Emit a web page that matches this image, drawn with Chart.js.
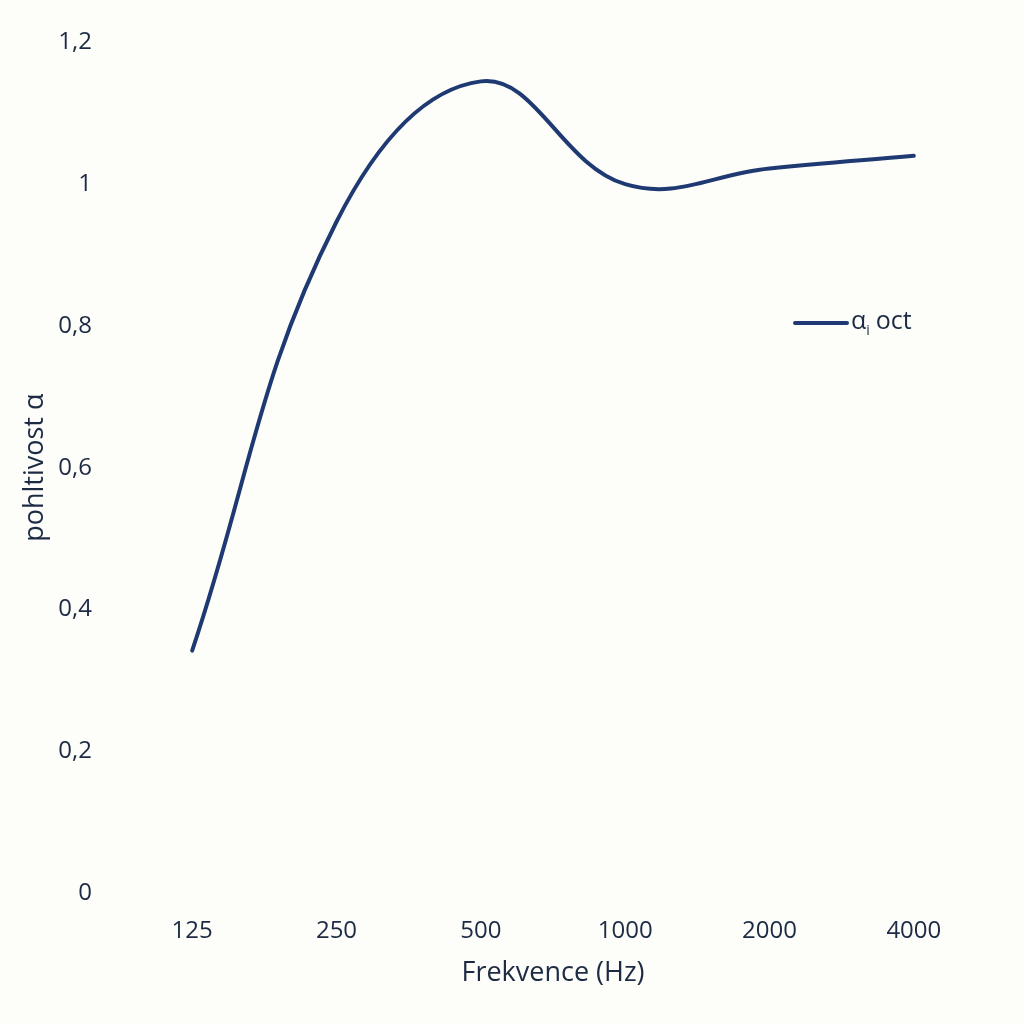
<!DOCTYPE html>
<html>
<head>
<meta charset="utf-8">
<script src="https://cdn.jsdelivr.net/npm/chart.js@4"></script>
<style>
  html, body { margin: 0; padding: 0; background: #fdfdf9; }
  #wrap { width: 1024px; height: 1024px; }
</style>
</head>
<body>
<div id="wrap"><canvas id="chart" width="1024" height="1024"></canvas></div>
<script>
const frequencies = ['125', '250', '500', '1000', '2000', '4000'];
const alphaOct = [0.342, 0.947, 1.145, 1.0, 1.022, 1.04];
const seriesName = 'oct';

const textColor = '#1c2a44';
const lineColor = '#1f3a72';
const fontFamily = '"Open Sans", "Noto Sans", sans-serif';

// legend drawn inside the plot area, like the original
const inlineLegend = {
  id: 'inlineLegend',
  afterDraw(chart) {
    const ctx = chart.ctx;
    const y = 323;
    ctx.save();
    ctx.strokeStyle = lineColor;
    ctx.lineWidth = 4;
    ctx.lineCap = 'round';
    ctx.beginPath();
    ctx.moveTo(795, y);
    ctx.lineTo(847, y);
    ctx.stroke();
    ctx.fillStyle = textColor;
    ctx.textBaseline = 'middle';
    ctx.font = '25px ' + fontFamily;
    ctx.fillText('α', 851, y - 1);
    let x = 851 + ctx.measureText('α').width;
    ctx.font = '14px ' + fontFamily;
    ctx.fillText('i', x, y + 8);
    x += ctx.measureText('i').width + 6;
    ctx.font = '25px ' + fontFamily;
    ctx.fillText(seriesName, x, y - 1);
    ctx.restore();
  }
};

const background = {
  id: 'background',
  beforeDraw(chart) {
    const ctx = chart.ctx;
    ctx.save();
    ctx.fillStyle = '#fdfdf9';
    ctx.fillRect(0, 0, chart.width, chart.height);
    ctx.restore();
  }
};

new Chart(document.getElementById('chart'), {
  type: 'line',
  data: {
    labels: frequencies,
    datasets: [{
      label: 'αi oct',
      data: alphaOct,
      borderColor: lineColor,
      borderWidth: 4,
      borderCapStyle: 'round',
      pointRadius: 0,
      tension: 0.4,
      fill: false
    }]
  },
  options: {
    responsive: false,
    animation: false,
    layout: { padding: { top: 26, right: 38, bottom: 30, left: 0 } },
    plugins: {
      legend: { display: false },
      tooltip: { enabled: false }
    },
    scales: {
      x: {
        offset: true,
        grid: { display: false, drawTicks: false },
        border: { display: false },
        ticks: { color: textColor, font: { family: fontFamily, size: 24 }, padding: 24, maxRotation: 0 },
        title: { display: true, text: 'Frekvence (Hz)', color: textColor, font: { family: fontFamily, size: 27 }, padding: { top: 8, bottom: 4 } },
        afterFit(scale) { scale.height = 1024 - 893 - 30; }
      },
      y: {
        min: 0,
        max: 1.2,
        grid: { display: false, drawTicks: false },
        border: { display: false },
        ticks: {
          stepSize: 0.2,
          color: textColor,
          font: { family: fontFamily, size: 24 },
          padding: 28,
          callback: v => String(Math.round(v * 10) / 10).replace('.', ',')
        },
        title: { display: true, text: 'pohltivost α', color: textColor, font: { family: fontFamily, size: 27 }, padding: { top: 19, bottom: 0 } },
        afterFit(scale) { scale.width = 120; }
      }
    }
  },
  plugins: [background, inlineLegend]
});
</script>
</body>
</html>
